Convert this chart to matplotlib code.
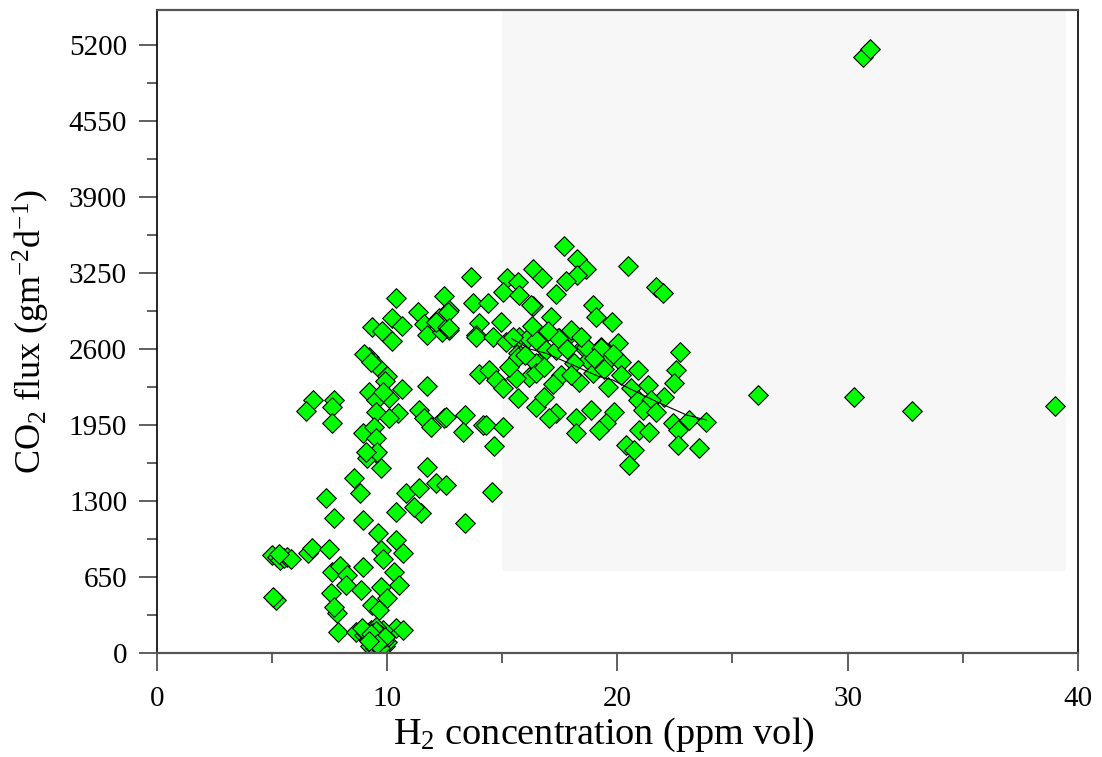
import matplotlib
matplotlib.use('Agg')
import matplotlib.pyplot as plt
from matplotlib.patches import Rectangle
from matplotlib.ticker import MultipleLocator

# data (H2 ppm vol, CO2 flux g m-2 d-1)
h2_ppm = [
    # low-left group
    5.0, 5.2, 5.36, 5.5, 5.65, 5.8, 5.3, 5.16, 5.05, 6.54, 6.75, 7.48,
    # 7-14 ppm, lower part
    9.51, 9.14, 9.72, 11.72, 8.54, 8.81, 10.8, 11.36, 12.11, 12.55, 7.36, 7.67,
    8.93, 10.38, 11.46, 11.17, 13.39, 9.62, 10.38, 10.67, 9.72, 9.83, 8.93, 7.62,
    7.94, 8.27, 10.3, 10.52, 9.72, 8.84, 8.2, 7.55, 10.01, 9.36, 9.65, 7.84,
    7.7, 7.88, 10.38, 10.7, 8.64, 9.2, 14.57,
    # dense cluster near the origin
    9.0, 9.2, 9.3, 9.5, 9.6, 9.7, 9.8, 9.9, 9.4, 9.1, 9.6, 9.8, 10.0, 9.3, 9.5,
    8.9, 9.7, 9.45, 9.65, 9.35, 9.55, 9.75, 9.85, 9.25, 9.45, 9.65, 9.4, 9.6,
    9.7, 9.5, 9.8, 9.3, 9.9, 9.55, 9.2,
    # 6-14 ppm, upper part
    13.64, 10.38, 12.48, 13.71, 11.35, 12.67, 10.2, 10.64, 9.36, 9.77, 10.2, 11.58,
    11.72, 12.23, 12.38, 12.67, 12.1, 12.6, 13.97, 13.86, 9.19, 9.0, 9.55, 9.98,
    14.0, 11.72, 10.64, 9.22, 9.51, 10.09, 6.78, 7.67, 6.49, 7.62, 7.62, 8.93,
    9.51, 10.45, 10.09, 9.43, 9.53, 9.55, 9.07, 11.39, 11.58, 11.9, 12.45, 13.39,
    13.28, 14.14, 9.3, 9.9, 9.8, 12.62, 12.67,
    # 14-24 ppm, upper
    17.7, 18.25, 18.64, 18.23, 16.32, 16.73, 17.77, 17.33, 20.45, 21.68, 21.97, 15.19,
    15.67, 15.01, 15.74, 14.36, 18.93, 19.07, 19.75, 16.32, 17.12, 14.94,
    # 14-24 ppm, main body
    13.86, 14.58, 15.16, 15.67, 15.74, 16.1, 16.47, 16.61, 16.17, 15.59, 16.9, 17.33,
    17.48, 17.99, 18.49, 18.71, 19.29, 20.01, 19.51, 20.16, 18.13, 17.55, 18.35, 18.93,
    19.58, 20.16, 20.88, 22.7, 22.55, 22.48, 21.32, 20.59, 22.04, 20.88, 21.47, 21.1,
    21.68, 15.67, 16.47, 16.83, 17.33, 17.04, 18.2, 18.86, 19.87, 19.51, 19.22, 18.2,
    20.96, 21.39, 22.41, 23.13, 23.86, 22.62, 22.62, 23.55, 20.38, 20.74, 20.52, 14.65,
    12.54, 14.28, 15.01, 14.43, 14.72, 15.01,
    15.45, 15.67, 16.47, 16.23, 17.4, 17.99, 18.64, 19.29, 16.47,
    16.0, 16.8, 17.2, 17.8, 18.4, 19.0, 19.8, 17.0, 15.3, 16.3, 18.0, 19.4,
    # outliers
    30.65, 30.96, 30.3, 32.8, 39.0, 26.1,
]
co2_flux = [
    838, 820, 796, 810, 824, 800, 845, 453, 480, 858, 896, 887,
    1708, 1665, 1580, 1594, 1494, 1366, 1366, 1409, 1457, 1437, 1323, 1152,
    1138, 1209, 1200, 1252, 1115, 1024, 967, 853, 881, 802, 738, 695,
    744, 667, 695, 582, 567, 539, 582, 510, 468, 411, 368, 340,
    396, 182, 211, 197, 182, 182, 1377,
    150, 120, 200, 80, 50, 100, 130, 60, 30, 170, 160, 200, 90, 90, 220,
    210, 20, 140, 70, 110, 180, 150, 100, 60, 40, 120, 170, 75, 45,
    190, 130, 160, 140, 80, 100,
    3212, 3034, 3054, 2991, 2920, 2934, 2868, 2797, 2791, 2754, 2669, 2811,
    2720, 2868, 2749, 2763, 2830, 2790, 2820, 2720, 2535, 2560, 2455, 2370,
    2387, 2284, 2256, 2236, 2164, 2178, 2164, 2164, 2070, 2107, 1970, 1885,
    2065, 2050, 2008, 1936, 1837, 1722, 1722, 2079, 2008, 1936, 2013, 2039,
    1893, 1950, 2490, 2330, 2230, 2920, 2777,
    3482, 3368, 3282, 3234, 3282, 3205, 3185, 3071, 3310, 3134, 3077, 3205,
    3176, 3091, 3062, 2991, 2977, 2877, 2834, 2969, 2877, 2834,
    2706, 2706, 2663, 2563, 2706, 2692, 2677, 2478, 2364, 2350, 2592, 2592,
    2692, 2735, 2620, 2506, 2620, 2649, 2492, 2492, 2478, 2378, 2321, 2393,
    2278, 2378, 2421, 2578, 2421, 2307, 2293, 2264, 2193, 2164, 2164, 2079,
    2065, 2178, 2107, 2193, 2050, 2008, 2008, 2079, 2065, 1965, 1908, 1879,
    1908, 1893, 1965, 1993, 1979, 1908, 1779, 1751, 1779, 1736, 1608, 1770,
    2016, 1950, 1936, 2421, 2335, 2264,
    2706, 2535, 2478, 2977, 2692, 2763, 2620, 2606, 2393,
    2550, 2450, 2300, 2600, 2700, 2520, 2560, 2750, 2450, 2800, 2380, 2430,
    5098, 5167, 2190, 2070, 2110, 2207,
]

# thin trend line through the 15-24 ppm group
trend_x = [15.4, 16.2, 16.9, 17.9, 19.2, 19.8, 20.65, 21.7, 23.0, 23.86]
trend_y = [2690, 2600, 2564, 2478, 2364, 2335, 2250, 2150, 2036, 1993]

# shaded window
shade_x0, shade_x1 = 15, 39.5
shade_y0 = 700

plt.rcParams['font.family'] = ['Liberation Serif', 'DejaVu Serif']
plt.rcParams['mathtext.fontset'] = 'custom'
plt.rcParams['mathtext.rm'] = 'Liberation Serif'
plt.rcParams['mathtext.it'] = 'Liberation Serif:italic'

fig = plt.figure(figsize=(11.02, 7.57), dpi=100)
ax = fig.add_axes([0.1425, 0.1374, 0.8355, 0.8494])

ax.set_xlim(0, 40)
ax.set_ylim(0, 5500)

ax.add_patch(Rectangle((shade_x0, shade_y0), shade_x1 - shade_x0, 5500 - shade_y0,
                       facecolor='#f7f7f7', edgecolor='none', zorder=0))

ax.scatter(h2_ppm, co2_flux, marker='D', s=100, facecolor='#00ff00',
           edgecolor='black', linewidth=0.8, zorder=2)
ax.plot(trend_x, trend_y, color='black', linewidth=0.8, zorder=3)

ax.xaxis.set_major_locator(MultipleLocator(10))
ax.xaxis.set_minor_locator(MultipleLocator(5))
ax.yaxis.set_major_locator(MultipleLocator(650))
ax.yaxis.set_minor_locator(MultipleLocator(325))
ax.tick_params(which='major', direction='out', length=13, width=1.2,
               color='#444444', labelsize=21, pad=8.5)
ax.tick_params(which='minor', direction='out', length=7, width=1.2,
               color='#444444')
ax.tick_params(axis='x', pad=11)

for side in ['left', 'right']:
    ax.spines[side].set_color('black')
    ax.spines[side].set_linewidth(1.2)
for side in ['top', 'bottom']:
    ax.spines[side].set_color('#555555')
    ax.spines[side].set_linewidth(1.6)

ax.set_xlabel(r'H$_\mathrm{2}$ concentration (ppm vol)', fontsize=27.5, va='top')
ax.xaxis.set_label_coords(0.485, -0.097)
ax.set_ylabel(r'CO$_\mathrm{2}$ flux (gm$^\mathrm{-2}$d$^\mathrm{-1}$)', fontsize=26)
ax.yaxis.set_label_coords(-0.114, 0.5)

fig.savefig('out.png', dpi=100)
